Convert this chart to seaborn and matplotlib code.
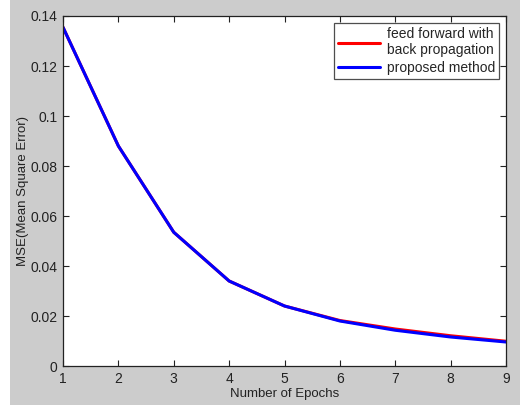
import matplotlib
matplotlib.use("Agg")
import matplotlib.pyplot as plt
from matplotlib.patches import Rectangle
import numpy as np
import pandas as pd
import seaborn as sns

epochs = [1, 2, 3, 4, 5, 6, 7, 8, 9]
mse_bp = [0.1355, 0.0880, 0.0535, 0.0340, 0.0240, 0.0182, 0.0148, 0.0121, 0.0099]
mse_proposed = [0.1355, 0.0880, 0.0535, 0.0340, 0.0240, 0.0180, 0.0143, 0.0116, 0.0096]
series_names = ["feed forward with\nback propagation", "proposed method"]
colors = ["#ff0000", "#0000ff"]

df = pd.DataFrame({
    "epoch": epochs * 2,
    "mse": mse_bp + mse_proposed,
    "method": [series_names[0]] * len(epochs) + [series_names[1]] * len(epochs),
})

sns.set_theme(style="white")
plt.rcParams["font.family"] = ["Liberation Sans", "DejaVu Sans"]

fig = plt.figure(figsize=(5.2, 4.05), dpi=100)
fig.patch.set_facecolor("#cccccc")
fig.patches.append(Rectangle((0, 0), 10 / 520, 1, transform=fig.transFigure,
                             facecolor="white", edgecolor="none", zorder=0))
ax = fig.add_axes([63 / 520, 39 / 405, 443 / 520, 350 / 405])
ax.set_facecolor("white")

sns.lineplot(data=df, x="epoch", y="mse", hue="method", palette=colors,
             linewidth=2.2, ax=ax, legend=True)

ax.set_xlim(1, 9)
ax.set_ylim(0, 0.14)
ax.set_xticks(epochs)
ax.set_yticks(np.arange(0, 0.141, 0.02))
ax.set_yticklabels(["0", "0.02", "0.04", "0.06", "0.08", "0.1", "0.12", "0.14"])
ax.tick_params(direction="in", length=4, width=0.8, colors="#222222", labelsize=10,
               top=True, right=True, bottom=True, left=True, pad=4)
for s in ax.spines.values():
    s.set_color("#222222")
    s.set_linewidth(0.9)
ax.set_xlabel("Number of Epochs", fontsize=9.5, labelpad=2, color="#222222")
ax.set_ylabel("MSE(Mean Square Error)", fontsize=9.5, labelpad=1, color="#222222")

leg = ax.legend(loc="upper right", fontsize=10, frameon=True, fancybox=False,
                edgecolor="#222222", handlelength=3.0, borderpad=0.3,
                labelspacing=0.25, handletextpad=0.5, borderaxespad=0.5)
leg.get_frame().set_linewidth(0.9)
leg.set_title(None)

fig.savefig("out.png", dpi=100, facecolor=fig.get_facecolor())
